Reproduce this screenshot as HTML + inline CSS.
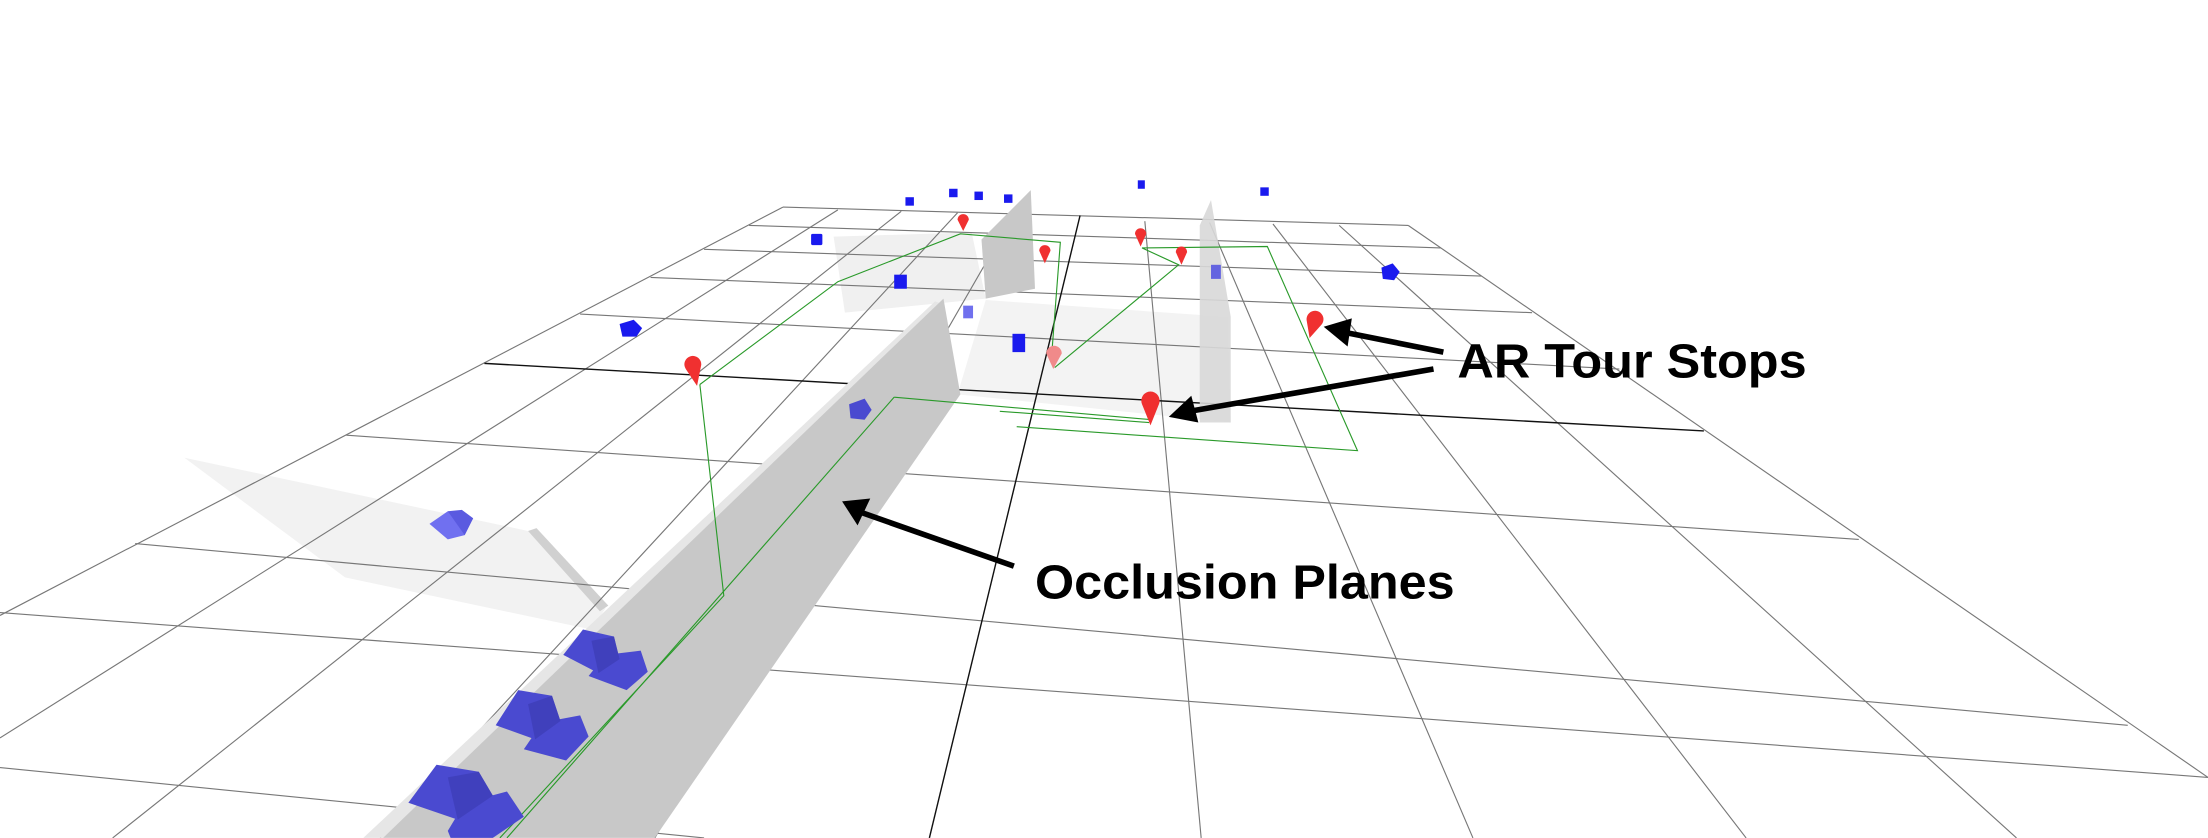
<!DOCTYPE html>
<html><head><meta charset="utf-8"><style>html,body{margin:0;padding:0;background:#fff;}svg{display:block;}</style></head>
<body>
<svg width="2208" height="838" viewBox="0 0 1568 595" xmlns="http://www.w3.org/2000/svg" font-family="Liberation Sans, sans-serif">
<rect width="1568" height="595" fill="#fff"/>
<!-- light planes -->
<polygon points="131,325 375,377 430,432 420,447 245,410" fill="#f2f2f2"/>
<polygon points="375,377 381,375 432,430 426,434" fill="#d0d0d0"/>
<polygon points="592,168 690,165 700,212 600,222" fill="#f0f0f0"/>
<polygon points="700,213 872,225 874,300 680,280" fill="#f3f3f3"/>
<!-- grid rows -->
<g stroke="#777" stroke-width="0.8" fill="none">
<line x1="556" y1="147" x2="1000" y2="160"/>
<line x1="532" y1="160" x2="1023" y2="176"/>
<line x1="500" y1="177" x2="1052" y2="196"/>
<line x1="462" y1="197" x2="1088" y2="222"/>
<line x1="412" y1="223" x2="1150" y2="262"/>
<line x1="246" y1="309" x2="1320" y2="383"/>
<line x1="96" y1="386" x2="1511" y2="515"/>
<line x1="0" y1="435" x2="1568" y2="552"/>
<line x1="0" y1="545" x2="500" y2="595"/>
<!-- edges -->
<polyline points="556,147 0,437"/>
<polyline points="1000,160 1568,552"/>
<!-- columns -->
<line x1="595" y1="149" x2="0" y2="524"/>
<line x1="640" y1="150" x2="80" y2="595"/>
<line x1="680" y1="151" x2="270" y2="595"/>
<line x1="720" y1="152" x2="465" y2="595"/>
<line x1="813" y1="157" x2="853" y2="595"/>
<line x1="859" y1="158" x2="1046" y2="595"/>
<line x1="904" y1="159" x2="1240" y2="595"/>
<line x1="951" y1="160" x2="1432" y2="595"/>
</g>
<line x1="344" y1="258" x2="1210" y2="306" stroke="#111" stroke-width="1"/>
<line x1="767" y1="153" x2="660" y2="595" stroke="#111" stroke-width="1"/>
<!-- walls -->
<polygon points="697,170 732,135 735,205 700,212" fill="#c8c8c8"/>
<polygon points="852,160 860,142 874,225 874,300 852,300" fill="#d8d8d8" opacity="0.9"/>
<polygon points="258,595 664,214 670,216 272,595" fill="#e6e6e6"/>
<polygon points="272,595 670,212 682,280 465,595" fill="#c8c8c8"/>
<!-- green path -->
<g stroke="#2a9a2a" stroke-width="0.8" fill="none">
<polyline points="497,273 595,200 682,166 753,172 747,250"/>
<polyline points="497,273 514,423 355,595"/>
<polyline points="635,282 360,595"/>
<polyline points="635,282 818,298"/>
<polyline points="710,292 816,300"/>
<polyline points="722,303 964,320 900,175 811,176 837,188 749,261"/>
</g>
<!-- blue cubes -->
<g fill="#1a1aee">
<rect x="576" y="166" width="8" height="8" rx="1"/>
<rect x="643" y="140" width="6" height="6"/>
<rect x="674" y="134" width="6" height="6"/>
<rect x="692" y="136" width="6" height="6"/>
<rect x="713" y="138" width="6" height="6"/>
<rect x="808" y="128" width="5" height="6"/>
<rect x="895" y="133" width="6" height="6"/>
<rect x="635" y="195" width="9" height="10"/>
<rect x="719" y="237" width="9" height="13"/>
<polygon points="440,230 450,227 456,233 452,239 442,239"/>
<polygon points="981,190 989,187 994,193 990,199 982,198"/>
</g>
<rect x="684" y="217" width="7" height="9" fill="#7070ee"/>
<rect x="860" y="188" width="7" height="10" fill="#6464e0"/>
<polygon points="603,287 614,283 619,291 614,298 604,297" fill="#4a4ad0"/>
<polygon points="305,372 318,363 336,368 330,380 318,383" fill="#7070f0"/>
<polygon points="318,363 328,362 336,368 330,380" fill="#5a5ae0"/>
<g fill="#4a4ad0">
<polygon points="400,465 414,447 436,452 440,468 425,478"/>
<polygon points="418,480 430,465 455,462 460,477 445,490"/>
<polygon points="352,515 368,490 392,494 398,512 380,525"/>
<polygon points="372,532 385,513 412,508 418,523 402,540"/>
<polygon points="290,570 310,543 340,548 350,565 325,582"/>
<polygon points="318,590 330,570 360,562 372,580 350,595 320,595"/>
</g>
<g fill="#3a3ab0" opacity="0.6">
<polygon points="420,455 436,452 440,468 425,478"/>
<polygon points="375,500 392,494 398,512 380,525"/>
<polygon points="318,552 340,548 350,565 325,582"/>
</g>
<!-- red pins -->
<g fill="#f03030">
<path d="M684,164 l-4,-8 a4,4 0 1 1 8,0 z"/>
<path d="M742,187 l-4,-9 a4,4 0 1 1 8,0 z"/>
<path d="M810,175 l-4,-9 a4,4 0 1 1 8,0 z"/>
<path d="M839,188 l-4,-9 a4,4 0 1 1 8,0 z"/>
<path d="M495,274 l-8,-12 a6,6 0 1 1 11,-3 z"/>
<path d="M930,240 l-2,-12 a6,6 0 1 1 10,3 z"/>
<path d="M817,302 l-6,-15 a6.5,6.5 0 1 1 12,0 z"/>
</g>
<path d="M748,262 l-5,-11 a5.5,5.5 0 1 1 11,0 z" fill="#f08a8a"/>
<!-- arrows -->
<g stroke="#000" stroke-width="4" fill="#000">
<line x1="1025" y1="250" x2="955" y2="236"/>
<line x1="1018" y1="262" x2="845" y2="292"/>
<line x1="720" y1="402" x2="612" y2="364"/>
</g>
<polygon points="940,232 960,226 957,246" fill="#000"/>
<polygon points="830,296 846,281 851,300" fill="#000"/>
<polygon points="598,356 618,354 609,373" fill="#000"/>
<text x="1035" y="268" font-size="34" font-weight="bold" textLength="248" lengthAdjust="spacingAndGlyphs">AR Tour Stops</text>
<text x="735" y="425" font-size="34" font-weight="bold" textLength="298" lengthAdjust="spacingAndGlyphs">Occlusion Planes</text>
</svg>
</body></html>
